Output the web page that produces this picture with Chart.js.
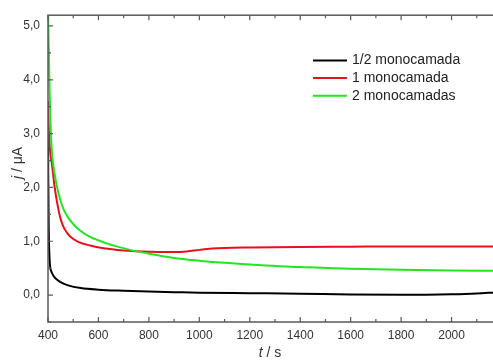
<!DOCTYPE html>
<html>
<head>
<meta charset="utf-8">
<script src="https://cdn.jsdelivr.net/npm/chart.js@4.4.1/dist/chart.umd.min.js"></script>
<style>
  html, body { margin: 0; padding: 0; background: #fff; overflow: hidden; }
  #wrap { width: 503px; height: 360px; }
</style>
</head>
<body>
<div id="wrap"><canvas id="chart" width="503" height="360"></canvas></div>
<script>
// values
const seriesLabels = ['1/2 monocamada', '1 monocamada', '2 monocamadas'];
const seriesColors = ['#000000', '#e8101a', '#22e622'];

const halfT = [400, 401, 403, 405, 408, 415, 430, 450, 480, 530, 600, 700, 800, 900, 1000, 1200, 1400, 1600, 1800, 2000, 2100, 2170];
const halfJ = [3.6, 2.2, 1.2, 0.8, 0.55, 0.42, 0.31, 0.24, 0.18, 0.13, 0.1, 0.08, 0.065, 0.055, 0.045, 0.035, 0.025, 0.01, 0.005, 0.015, 0.03, 0.05];

const oneT = [400, 402, 405, 410, 415, 425, 435, 448, 460, 475, 490, 520, 567, 620, 700, 800, 900, 950, 1000, 1050, 1100, 1200, 1400, 1600, 1800, 2000, 2170];
const oneJ = [3.6, 3.2, 2.9, 2.6, 2.45, 2.05, 1.75, 1.45, 1.28, 1.16, 1.08, 0.99, 0.92, 0.87, 0.83, 0.805, 0.80, 0.81, 0.84, 0.865, 0.877, 0.885, 0.895, 0.9, 0.905, 0.905, 0.905];

const twoT = [400, 403, 406, 410, 415, 420, 434, 448, 461, 480, 500, 527, 567, 633, 725, 800, 900, 1000, 1100, 1200, 1400, 1600, 1800, 2000, 2170];
const twoJ = [5.3, 4.6, 3.9, 3.2, 2.7, 2.45, 2.05, 1.78, 1.6, 1.44, 1.32, 1.2, 1.08, 0.96, 0.84, 0.77, 0.69, 0.64, 0.6, 0.57, 0.52, 0.49, 0.47, 0.455, 0.45];

const xTicks = [400, 600, 800, 1000, 1200, 1400, 1600, 1800, 2000];
const yTicks = [0, 1, 2, 3, 4, 5];

const AXIS = '#5a5a5a';
const TEXT = '#333333';
const FONT = '"Liberation Sans", Arial, sans-serif';

function toPoints(xs, ys) {
    return xs.map((x, i) => ({ x: x, y: ys[i] }));
}

// frame, inward ticks (major + minor), legend and axis titles
const decorPlugin = {
    id: 'decor',
    afterDraw(chart) {
        const ctx = chart.ctx;
        const a = chart.chartArea;
        const xs = chart.scales.x;
        const ys = chart.scales.y;
        ctx.save();

        ctx.strokeStyle = AXIS;
        ctx.lineWidth = 1.5;
        ctx.strokeRect(a.left, a.top, a.right - a.left, a.bottom - a.top);

        // x ticks on bottom and top
        ctx.lineWidth = 1.2;
        for (let v = xs.min; v <= xs.max; v += 100) {
            const px = xs.getPixelForValue(v);
            const len = v % 200 === 0 ? 5 : 3;
            ctx.beginPath();
            ctx.moveTo(px, a.bottom); ctx.lineTo(px, a.bottom - len);
            ctx.moveTo(px, a.top); ctx.lineTo(px, a.top + len);
            ctx.stroke();
        }
        // y ticks on left and right
        for (let v = -0.5; v <= ys.max; v += 0.5) {
            const py = ys.getPixelForValue(v);
            const len = Math.abs(v % 1) < 1e-6 ? 5 : 3;
            ctx.beginPath();
            ctx.moveTo(a.left, py); ctx.lineTo(a.left + len, py);
            ctx.moveTo(a.right, py); ctx.lineTo(a.right - len, py);
            ctx.stroke();
        }

        // legend
        ctx.font = '14px ' + FONT;
        ctx.textBaseline = 'middle';
        ctx.textAlign = 'left';
        seriesLabels.forEach((label, i) => {
            const y = 60.5 + i * 17.6;
            ctx.strokeStyle = seriesColors[i];
            ctx.lineWidth = 2;
            ctx.beginPath();
            ctx.moveTo(313, y); ctx.lineTo(347, y);
            ctx.stroke();
            ctx.fillStyle = '#222';
            ctx.fillText(label, 352, y);
        });

        // axis titles with italic symbols
        ctx.fillStyle = TEXT;
        ctx.textBaseline = 'middle';
        ctx.save();
        ctx.translate(18, 163);
        ctx.rotate(-Math.PI / 2);
        drawMixed(ctx, [['italic 14px ', 'j'], ['14px ', ' / \u03bcA']], 0, 0);
        ctx.restore();
        drawMixed(ctx, [['italic 14px ', 't'], ['14px ', ' / s']], 270, 353);

        ctx.restore();
    }
};

function drawMixed(ctx, parts, cx, cy) {
    let total = 0;
    parts.forEach(p => { ctx.font = p[0] + FONT; total += ctx.measureText(p[1]).width; });
    let x = cx - total / 2;
    ctx.textAlign = 'left';
    parts.forEach(p => {
        ctx.font = p[0] + FONT;
        ctx.fillText(p[1], x, cy);
        x += ctx.measureText(p[1]).width;
    });
}

const datasets = [[halfT, halfJ], [oneT, oneJ], [twoT, twoJ]].map((d, i) => ({
    label: seriesLabels[i],
    data: toPoints(d[0], d[1]),
    borderColor: seriesColors[i],
    borderWidth: 2,
    pointRadius: 0,
    cubicInterpolationMode: 'monotone',
    fill: false
})).reverse();

new Chart(document.getElementById('chart'), {
    type: 'line',
    data: { datasets: datasets },
    options: {
        responsive: false,
        animation: false,
        devicePixelRatio: 1,
        layout: { padding: { top: 12, right: 1, left: 0, bottom: 0 } },
        plugins: { legend: { display: false }, tooltip: { enabled: false } },
        scales: {
            x: {
                type: 'linear',
                min: 400,
                max: 2200,
                afterBuildTicks: s => { s.ticks = xTicks.map(v => ({ value: v })); },
                afterFit: s => { s.height = 38; },
                grid: { display: false, drawTicks: false },
                border: { display: false },
                ticks: {
                    color: TEXT, padding: 6, maxRotation: 0, autoSkip: false,
                    font: { family: FONT, size: 12 },
                    callback: v => String(v)
                }
            },
            y: {
                type: 'linear',
                min: -0.5,
                max: 5.2,
                afterBuildTicks: s => { s.ticks = yTicks.map(v => ({ value: v })); },
                afterFit: s => { s.width = 48; },
                grid: { display: false, drawTicks: false },
                border: { display: false },
                ticks: {
                    color: TEXT, padding: 8, font: { family: FONT, size: 12 },
                    callback: v => v.toFixed(1).replace('.', ',')
                }
            }
        }
    },
    plugins: [decorPlugin]
});
</script>
</body>
</html>
